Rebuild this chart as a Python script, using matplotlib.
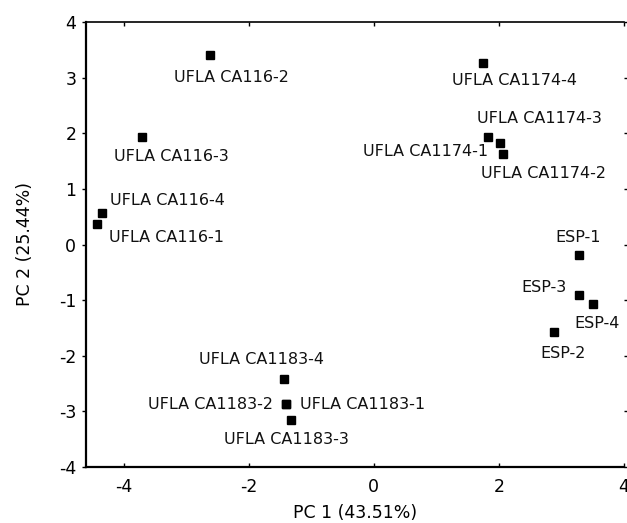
import matplotlib
matplotlib.use("Agg")
import matplotlib.pyplot as plt

# PCA scores
names = ["UFLA CA116-1", "UFLA CA116-2", "UFLA CA116-3", "UFLA CA116-4",
         "UFLA CA1174-1", "UFLA CA1174-2", "UFLA CA1174-3", "UFLA CA1174-4",
         "UFLA CA1183-1", "UFLA CA1183-2", "UFLA CA1183-3", "UFLA CA1183-4",
         "ESP-1", "ESP-2", "ESP-3", "ESP-4"]
pc1 = [-4.42, -2.62, -3.71, -4.35,
       1.83, 2.07, 2.01, 1.75,
       -1.41, -1.41, -1.33, -1.44,
       3.28, 2.88, 3.28, 3.50]
pc2 = [0.37, 3.41, 1.94, 0.57,
       1.94, 1.62, 1.83, 3.27,
       -2.87, -2.87, -3.15, -2.41,
       -0.19, -1.57, -0.91, -1.07]

xticks = [-4, -2, 0, 2, 4]
yticks = [-4, -3, -2, -1, 0, 1, 2, 3, 4]

# label placement: (dx, dy) in pixels, horizontal alignment
label_pos = {
    "UFLA CA116-1": (12, -14, "left"),
    "UFLA CA116-2": (22, -23, "center"),
    "UFLA CA116-3": (30, -20, "center"),
    "UFLA CA116-4": (8, 12, "left"),
    "UFLA CA1174-1": (0, -15, "right"),
    "UFLA CA1174-2": (40, -19, "center"),
    "UFLA CA1174-3": (40, 24, "center"),
    "UFLA CA1174-4": (31, -18, "center"),
    "UFLA CA1183-1": (14, 0, "left"),
    "UFLA CA1183-2": (-13, 0, "right"),
    "UFLA CA1183-3": (-4, -20, "center"),
    "UFLA CA1183-4": (-22, 19, "center"),
    "ESP-1": (-1, 18, "center"),
    "ESP-2": (9, -22, "center"),
    "ESP-3": (-12, 8, "right"),
    "ESP-4": (4, -19, "center"),
}

plt.rcParams['font.family'] = ['DejaVu Sans']
plt.rcParams['axes.unicode_minus'] = False

fig = plt.figure(figsize=(6.27, 5.23), dpi=100)
ax = fig.add_axes([86 / 627, 1 - 467 / 523, (624 - 86) / 627, (467 - 22) / 523])

ax.plot(pc1, pc2, 's', color='black', markersize=6, linestyle='none')

for n, x, y in zip(names, pc1, pc2):
    dx, dy, ha = label_pos[n]
    ax.annotate(n, (x, y), xytext=(dx, dy), textcoords='offset pixels',
                ha=ha, va='center', fontsize=11.5, color='#111111')

ax.set_xlim(-4.6, 4)
ax.set_ylim(-4, 4)
ax.set_xticks(xticks)
ax.set_yticks(yticks)
ax.tick_params(direction='in', length=3, width=1, labelsize=12.5,
               top=True, right=True)
ax.tick_params(axis='x', pad=8)
ax.tick_params(axis='y', right=True, direction='out', pad=4)
ax.tick_params(axis='y', left=True)
for s in ['left', 'bottom']:
    ax.spines[s].set_linewidth(1.6)
ax.spines['top'].set_linewidth(1.2)
ax.spines['right'].set_visible(False)

ax.set_xlabel("PC 1 (43.51%)", fontsize=12.5, labelpad=6)
ax.set_ylabel("PC 2 (25.44%)", fontsize=12.5, labelpad=18)

fig.savefig("out.png", dpi=100)
